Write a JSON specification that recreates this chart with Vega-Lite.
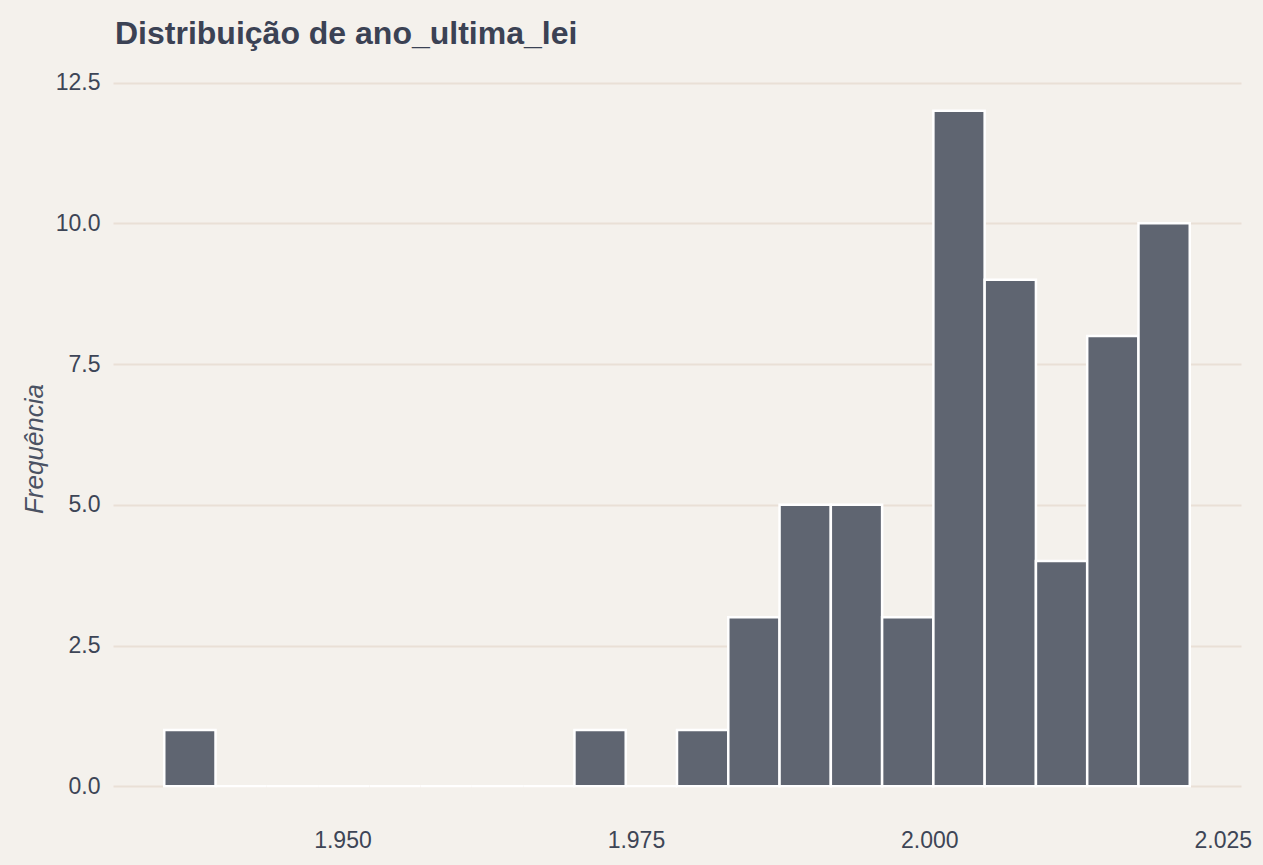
{
  "$schema": "https://vega.github.io/schema/vega-lite/v6.json",
  "autosize": "none",
  "width": 1128,
  "height": 743,
  "padding": {"left": 113, "top": 77, "right": 22, "bottom": 45},
  "background": "#F4F1EC",
  "title": {
    "text": "Distribuição de ano_ultima_lei",
    "anchor": "start",
    "frame": "group",
    "font": "Liberation Sans",
    "fontSize": 32,
    "fontWeight": "bold",
    "color": "#3B4254",
    "offset": 21,
    "dx": 2
  },
  "data": {
    "values": [
      {"bin_start": 1934.816, "bin_end": 1939.184, "count": 1},
      {"bin_start": 1939.184, "bin_end": 1943.553, "count": 0},
      {"bin_start": 1943.553, "bin_end": 1947.921, "count": 0},
      {"bin_start": 1947.921, "bin_end": 1952.289, "count": 0},
      {"bin_start": 1952.289, "bin_end": 1956.658, "count": 0},
      {"bin_start": 1956.658, "bin_end": 1961.026, "count": 0},
      {"bin_start": 1961.026, "bin_end": 1965.395, "count": 0},
      {"bin_start": 1965.395, "bin_end": 1969.763, "count": 0},
      {"bin_start": 1969.763, "bin_end": 1974.132, "count": 1},
      {"bin_start": 1974.132, "bin_end": 1978.5, "count": 0},
      {"bin_start": 1978.5, "bin_end": 1982.868, "count": 1},
      {"bin_start": 1982.868, "bin_end": 1987.237, "count": 3},
      {"bin_start": 1987.237, "bin_end": 1991.605, "count": 5},
      {"bin_start": 1991.605, "bin_end": 1995.974, "count": 5},
      {"bin_start": 1995.974, "bin_end": 2000.342, "count": 3},
      {"bin_start": 2000.342, "bin_end": 2004.711, "count": 12},
      {"bin_start": 2004.711, "bin_end": 2009.079, "count": 9},
      {"bin_start": 2009.079, "bin_end": 2013.447, "count": 4},
      {"bin_start": 2013.447, "bin_end": 2017.816, "count": 8},
      {"bin_start": 2017.816, "bin_end": 2022.184, "count": 10}
    ]
  },
  "mark": {"type": "rect", "color": "#5F6571", "stroke": "white", "strokeWidth": 2.5, "opacity": 1},
  "encoding": {
    "x": {
      "field": "bin_start",
      "type": "quantitative",
      "scale": {"domain": [1930.45, 2026.55], "nice": false, "zero": false},
      "axis": {
        "title": null,
        "values": [1950, 1975, 2000, 2025],
        "labelExpr": "replace(format(datum.value, ','), ',', '.')",
        "grid": false,
        "domain": false,
        "ticks": false,
        "labelPadding": 9,
        "labelFont": "Liberation Sans",
        "labelFontSize": 23,
        "labelColor": "#3D4556"
      }
    },
    "x2": {"field": "bin_end"},
    "y": {
      "field": "count",
      "type": "quantitative",
      "scale": {"domain": [-0.6, 12.6], "nice": false, "zero": false},
      "axis": {
        "title": "Frequência",
        "titleFont": "Liberation Sans",
        "titleFontSize": 26,
        "titleFontStyle": "italic",
        "titleFontWeight": "normal",
        "titleColor": "#4A5263",
        "titlePadding": 8,
        "values": [0, 2.5, 5, 7.5, 10, 12.5],
        "format": ".1f",
        "grid": true,
        "gridColor": "#E9E0D6",
        "gridWidth": 2,
        "domain": false,
        "ticks": false,
        "labelPadding": 13,
        "labelFont": "Liberation Sans",
        "labelFontSize": 23,
        "labelColor": "#3D4556"
      }
    },
    "y2": {"datum": 0}
  },
  "config": {"view": {"stroke": null}}
}
